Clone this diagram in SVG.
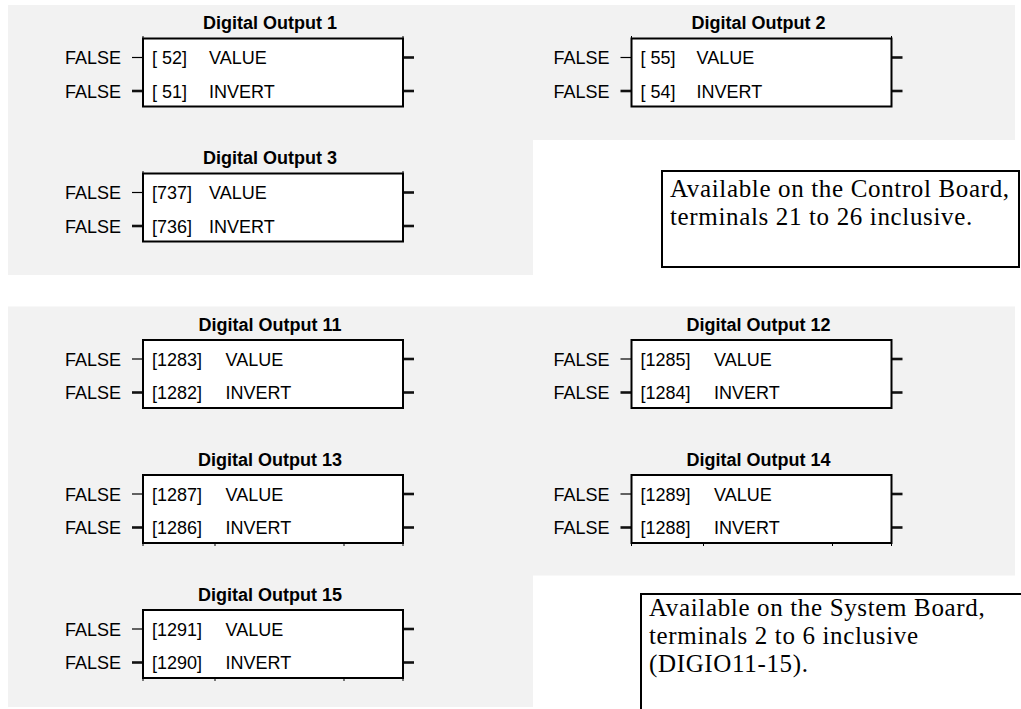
<svg xmlns="http://www.w3.org/2000/svg" width="1021" height="709" viewBox="0 0 1021 709">
<style>
.panel{fill:#f2f2f2;stroke:none}
.t{font-family:"Liberation Sans",Arial,sans-serif;font-size:18px;fill:#000}
.ttl{font-family:"Liberation Sans",Arial,sans-serif;font-size:18px;font-weight:bold;fill:#000;text-anchor:middle}
.box{fill:#fff;stroke:#000;stroke-width:2}
.tick{fill:none;stroke:#000;stroke-width:1}
.thin{stroke:#000;stroke-width:1.2}
.thick{stroke:#111;stroke-width:2.6}
.note{fill:#fff;stroke:#000;stroke-width:2}
.nt{font-family:"Liberation Serif","Times New Roman",serif;font-size:25px;letter-spacing:0.65px;fill:#000}
</style>
<rect width="1021" height="709" fill="#fff"/>
<path class="panel" d="M8,5 H1015 V140 H533 V275 H8 Z"/>
<path class="panel" d="M8,306.5 H1015 V575.5 H533 V707 H8 Z"/>

<g id="connectors">
<line class="thin" x1="132" y1="57.5" x2="143" y2="57.5"/>
<line class="thick" x1="132" y1="91" x2="143" y2="91"/>
<line class="thick" x1="403" y1="57.5" x2="414" y2="57.5"/>
<line class="thick" x1="403" y1="91" x2="414" y2="91"/>
<line class="thin" x1="620.5" y1="57.5" x2="631.5" y2="57.5"/>
<line class="thick" x1="620.5" y1="91" x2="631.5" y2="91"/>
<line class="thick" x1="891.5" y1="57.5" x2="902.5" y2="57.5"/>
<line class="thick" x1="891.5" y1="91" x2="902.5" y2="91"/>
<line class="thin" x1="132" y1="192.5" x2="143" y2="192.5"/>
<line class="thick" x1="132" y1="226" x2="143" y2="226"/>
<line class="thick" x1="403" y1="192.5" x2="414" y2="192.5"/>
<line class="thick" x1="403" y1="226" x2="414" y2="226"/>
<line class="thin" x1="132" y1="359" x2="143" y2="359"/>
<line class="thick" x1="132" y1="392.5" x2="143" y2="392.5"/>
<line class="thick" x1="403" y1="359" x2="414" y2="359"/>
<line class="thick" x1="403" y1="392.5" x2="414" y2="392.5"/>
<line class="thin" x1="620.5" y1="359" x2="631.5" y2="359"/>
<line class="thick" x1="620.5" y1="392.5" x2="631.5" y2="392.5"/>
<line class="thick" x1="891.5" y1="359" x2="902.5" y2="359"/>
<line class="thick" x1="891.5" y1="392.5" x2="902.5" y2="392.5"/>
<line class="thin" x1="132" y1="494" x2="143" y2="494"/>
<line class="thick" x1="132" y1="527.5" x2="143" y2="527.5"/>
<line class="thick" x1="403" y1="494" x2="414" y2="494"/>
<line class="thick" x1="403" y1="527.5" x2="414" y2="527.5"/>
<line class="thin" x1="620.5" y1="494" x2="631.5" y2="494"/>
<line class="thick" x1="620.5" y1="527.5" x2="631.5" y2="527.5"/>
<line class="thick" x1="891.5" y1="494" x2="902.5" y2="494"/>
<line class="thick" x1="891.5" y1="527.5" x2="902.5" y2="527.5"/>
<line class="thin" x1="132" y1="629" x2="143" y2="629"/>
<line class="thick" x1="132" y1="662.5" x2="143" y2="662.5"/>
<line class="thick" x1="403" y1="629" x2="414" y2="629"/>
<line class="thick" x1="403" y1="662.5" x2="414" y2="662.5"/>
</g>

<g id="do1">
<text class="ttl" x="270" y="29">Digital Output 1</text>
<rect class="box" x="143" y="38.5" width="260" height="68"/>
<path class="tick" d="M143,36 V38.5 M403,36 V38.5"/>
<text class="t" x="65" y="64">FALSE</text>
<text class="t" x="65" y="97.5">FALSE</text>
<text class="t" x="152" y="64">[ 52]</text>
<text class="t" x="209" y="64">VALUE</text>
<text class="t" x="152" y="97.5">[ 51]</text>
<text class="t" x="209" y="97.5">INVERT</text>
</g>

<g id="do2">
<text class="ttl" x="758.5" y="29">Digital Output 2</text>
<rect class="box" x="631.5" y="38.5" width="260" height="68"/>
<path class="tick" d="M631.5,36 V38.5 M891.5,36 V38.5"/>
<text class="t" x="553.5" y="64">FALSE</text>
<text class="t" x="553.5" y="97.5">FALSE</text>
<text class="t" x="640.5" y="64">[ 55]</text>
<text class="t" x="696.5" y="64">VALUE</text>
<text class="t" x="640.5" y="97.5">[ 54]</text>
<text class="t" x="696.5" y="97.5">INVERT</text>
</g>

<g id="do3">
<text class="ttl" x="270" y="164">Digital Output 3</text>
<rect class="box" x="143" y="173.5" width="260" height="68"/>
<path class="tick" d="M143,171 V173.5 M403,171 V173.5"/>
<text class="t" x="65" y="199">FALSE</text>
<text class="t" x="65" y="232.5">FALSE</text>
<text class="t" x="152" y="199">[737]</text>
<text class="t" x="209" y="199">VALUE</text>
<text class="t" x="152" y="232.5">[736]</text>
<text class="t" x="209" y="232.5">INVERT</text>
</g>

<g id="note1">
<rect class="note" x="662" y="171" width="357" height="96"/>
<text class="nt" x="670" y="197">Available on the Control Board,</text>
<text class="nt" x="670" y="225">terminals 21 to 26 inclusive.</text>
</g>

<g id="do11">
<text class="ttl" x="270" y="330.5">Digital Output 11</text>
<rect class="box" x="143" y="340" width="260" height="68"/>
<text class="t" x="65" y="365.5">FALSE</text>
<text class="t" x="65" y="399">FALSE</text>
<text class="t" x="152" y="365.5">[1283]</text>
<text class="t" x="225.5" y="365.5">VALUE</text>
<text class="t" x="152" y="399">[1282]</text>
<text class="t" x="225.5" y="399">INVERT</text>
</g>

<g id="do12">
<text class="ttl" x="758.5" y="330.5">Digital Output 12</text>
<rect class="box" x="631.5" y="340" width="260" height="68"/>
<text class="t" x="553.5" y="365.5">FALSE</text>
<text class="t" x="553.5" y="399">FALSE</text>
<text class="t" x="640.5" y="365.5">[1285]</text>
<text class="t" x="714" y="365.5">VALUE</text>
<text class="t" x="640.5" y="399">[1284]</text>
<text class="t" x="714" y="399">INVERT</text>
</g>

<g id="do13">
<text class="ttl" x="270" y="465.5">Digital Output 13</text>
<rect class="box" x="143" y="475" width="260" height="68"/>
<path class="tick" d="M143,543 V546 M215,543 V546 M344,543 V546 M403,543 V546"/>
<text class="t" x="65" y="500.5">FALSE</text>
<text class="t" x="65" y="534">FALSE</text>
<text class="t" x="152" y="500.5">[1287]</text>
<text class="t" x="225.5" y="500.5">VALUE</text>
<text class="t" x="152" y="534">[1286]</text>
<text class="t" x="225.5" y="534">INVERT</text>
</g>

<g id="do14">
<text class="ttl" x="758.5" y="465.5">Digital Output 14</text>
<rect class="box" x="631.5" y="475" width="260" height="68"/>
<path class="tick" d="M631.5,543 V546 M703.5,543 V546 M832.5,543 V546 M891.5,543 V546"/>
<text class="t" x="553.5" y="500.5">FALSE</text>
<text class="t" x="553.5" y="534">FALSE</text>
<text class="t" x="640.5" y="500.5">[1289]</text>
<text class="t" x="714" y="500.5">VALUE</text>
<text class="t" x="640.5" y="534">[1288]</text>
<text class="t" x="714" y="534">INVERT</text>
</g>

<g id="do15">
<text class="ttl" x="270" y="600.5">Digital Output 15</text>
<rect class="box" x="143" y="610" width="260" height="68"/>
<path class="tick" d="M143,678 V681 M215,678 V681 M344,678 V681 M403,678 V681"/>
<text class="t" x="65" y="635.5">FALSE</text>
<text class="t" x="65" y="669">FALSE</text>
<text class="t" x="152" y="635.5">[1291]</text>
<text class="t" x="225.5" y="635.5">VALUE</text>
<text class="t" x="152" y="669">[1290]</text>
<text class="t" x="225.5" y="669">INVERT</text>
</g>

<g id="note2">
<rect class="note" x="641" y="594" width="400" height="200"/>
<text class="nt" x="649" y="616">Available on the System Board,</text>
<text class="nt" x="649" y="644">terminals 2 to 6 inclusive</text>
<text class="nt" x="649" y="672">(DIGIO11-15).</text>
</g>
</svg>
